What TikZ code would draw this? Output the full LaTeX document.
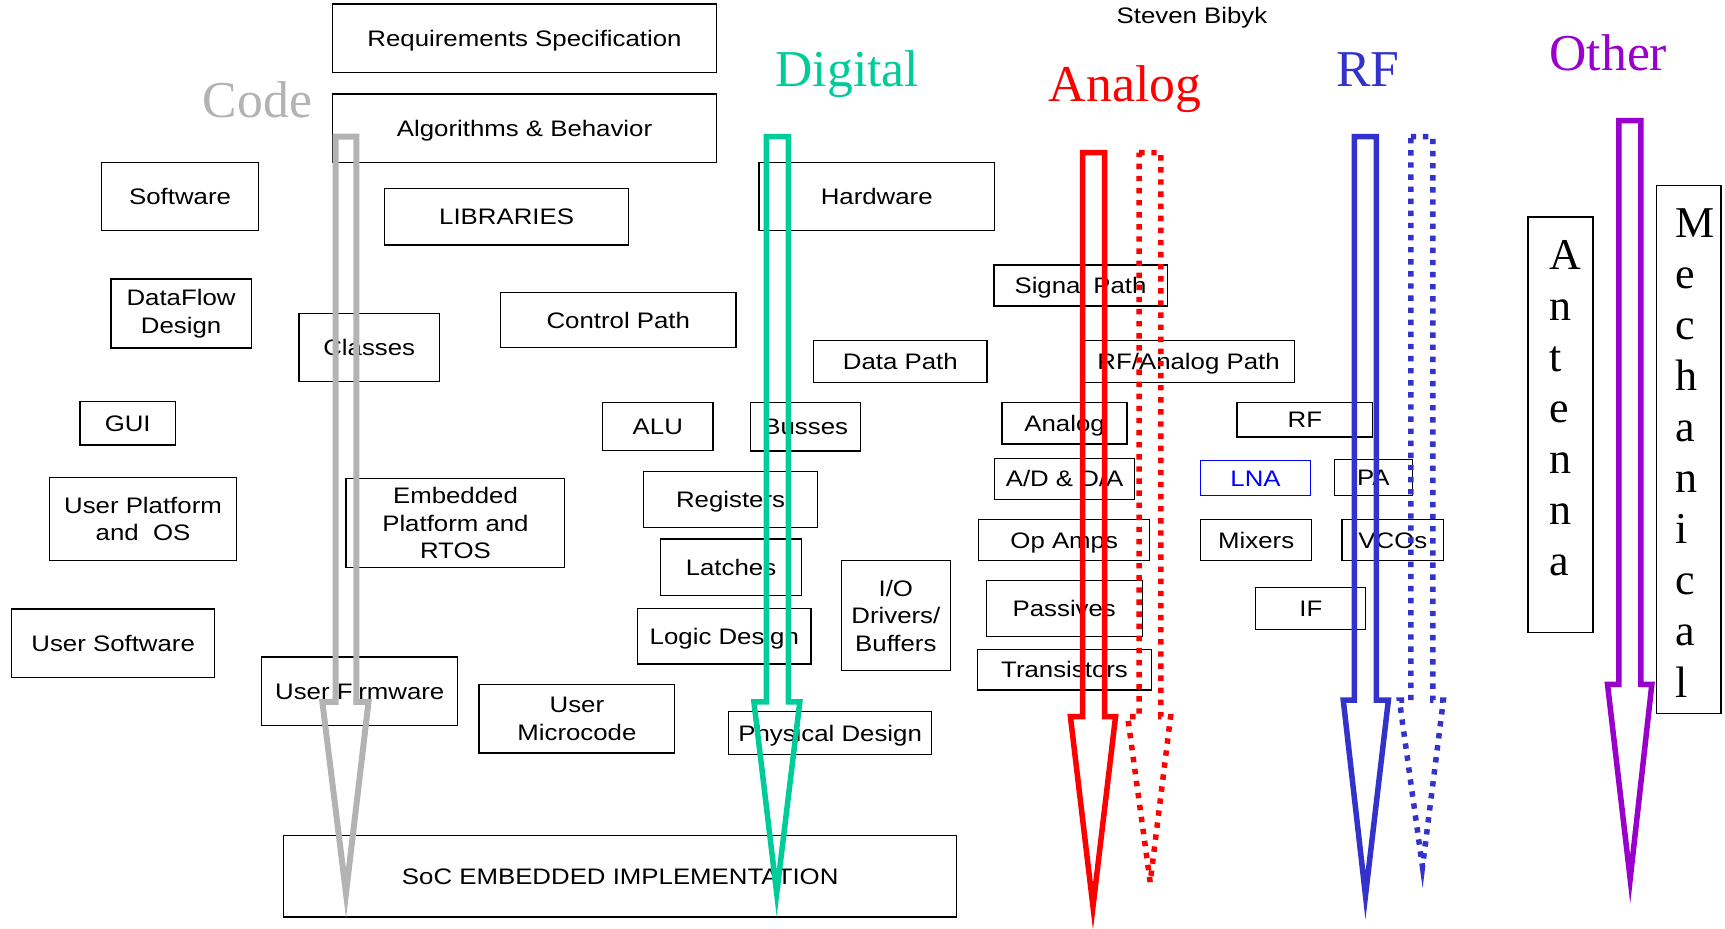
\documentclass[tikz,border=0pt]{standalone}
\usepackage{fontspec}
\setmainfont{Liberation Sans}[FakeStretch=1.15]
\newfontfamily\tmsfont{Liberation Serif}
\definecolor{codegray}{HTML}{B3B3B3}
\definecolor{digteal}{HTML}{00CC99}
\definecolor{anared}{HTML}{FF0000}
\definecolor{rfblue}{HTML}{3333CC}
\definecolor{othpurple}{HTML}{9900CC}
\definecolor{lnablue}{HTML}{0000FF}
\newcommand\bx[7][]{\node[box,#1,minimum width={(#5-#3)*0.5pt},minimum height={(#6-#4)*0.5pt}] (#2) at ({(#3+#5)/2},{(#4+#6)/2}) {#7};}
\newcommand\blockarrow[9]{\draw[#1] (#2,#4) -- (#3,#4) -- (#3,#5) -- (#7,#5) -- (#8,#9) -- (#6,#5) -- (#2,#5) -- cycle;}
\tikzset{
 box/.style={draw=black, line width=0.6pt, inner sep=0pt, outer sep=0pt, align=center, font=\fontsize{10.2}{12.5}\selectfont},
 oneline/.style={text height=7.3pt, text depth=0pt},
 title/.style={font=\tmsfont\fontsize{23.5}{28}\selectfont, anchor=base west, inner sep=0pt},
 vletters/.style={font=\tmsfont\fontsize{20}{23.2}\selectfont, anchor=north west, align=left, inner sep=0pt},
 barrow/.style={line width=2.5pt, line join=miter, miter limit=25},
 dotarrow/.style={barrow, dash pattern=on 2.45pt off 3.05pt},
}
\begin{document}
\begin{tikzpicture}[x=0.5pt,y=-0.5pt]
\fill[white] (0,0) rectangle (1568,844);
\useasboundingbox (0,0) rectangle (1568,844);
% author
\node[font=\fontsize{10.2}{12.5}\selectfont, anchor=base, inner sep=0pt] (author) at (1083.5,21.5) {Steven Bibyk};
% titles
\node[title, text=codegray] (tcode) at (184,107) {Code};
\node[title, text=digteal] (tdig) at (704.5,78.5) {Digital};
\node[title, text=anared] (tana) at (953,92.5) {Analog};
\node[title, text=rfblue] (trf) at (1214,79) {RF};
\node[title, text=othpurple] (toth) at (1408,64) {Other};
% boxes
\bx[oneline]{req}{302.3}{3.6}{651.3}{66.1}{Requirements Specification}
\bx[oneline]{alg}{302.3}{85.5}{651.3}{147.6}{Algorithms \& Behavior}
\bx[oneline]{sw}{92.5}{147.6}{234.9}{209.7}{Software}
\bx[oneline]{lib}{349.5}{171.5}{571.5}{222.7}{LIBRARIES}
\bx[oneline]{hw}{689.9}{147.6}{904}{209.7}{Hardware}
\bx{dfd}{100.9}{253.6}{228.3}{316.4}{DataFlow\\Design}
\bx[oneline]{cls}{271.9}{285.2}{399.3}{347}{Classes}
\bx[oneline]{ctl}{455.2}{266.1}{668.9}{316.1}{Control Path}
\bx[oneline]{dp}{739.5}{309.4}{897.2}{347.6}{Data Path}
\bx[oneline]{sig}{903.4}{240.9}{1061}{278.2}{Signal Path}
\bx[oneline]{rfa}{983.9}{309.5}{1176.9}{347.4}{RF/Analog Path}
\bx[oneline]{gui}{72.7}{365.2}{159.5}{404.5}{GUI}
\bx[oneline]{alu}{547.7}{366.1}{648.2}{409.7}{ALU}
\bx[oneline]{bus}{682.4}{366.1}{782.4}{410}{Busses}
\bx[oneline]{anl}{910.8}{366}{1024.5}{403.6}{Analog}
\bx[oneline]{rfb}{1124.5}{366}{1247.7}{397.3}{RF}
\bx{upo}{44.9}{434.2}{215.1}{509.7}{User Platform\\and~ OS}
\bx{emb}{314.6}{434.8}{513.4}{516.1}{Embedded\\Platform and\\RTOS}
\bx[oneline]{reg}{585.2}{428.8}{743}{479.4}{Registers}
\bx[oneline]{adda}{904}{416.7}{1031.4}{453.9}{A/D \& D/A}
\bx[oneline, draw=lnablue, text=lnablue]{lna}{1091.3}{418.8}{1191.3}{450.3}{LNA}
\bx[oneline]{pa}{1212.9}{417.5}{1283.7}{450.3}{PA}
\bx[oneline]{lat}{600.2}{490}{728.7}{541.2}{Latches}
\bx[oneline]{opa}{889.7}{472.1}{1045}{509.7}{Op Amps}
\bx[oneline]{mix}{1091.3}{472.1}{1192.4}{509.7}{Mixers}
\bx[oneline]{vco}{1219.8}{472.1}{1312.3}{509.7}{VCOs}
\bx{io}{764.6}{509.7}{864}{609.7}{I/O\\Drivers/\\Buffers}
\bx[oneline]{logic}{579.5}{553}{737.3}{603.6}{Logic Design}
\bx[oneline]{pas}{896.6}{527.9}{1038.2}{578.8}{Passives}
\bx[oneline]{if}{1141.5}{534.2}{1241.5}{572.1}{IF}
\bx[oneline]{usw}{10.6}{553.6}{195.2}{615.8}{User Software}
\bx[oneline]{trn}{888.6}{590.3}{1046.7}{627.3}{Transistors}
\bx[oneline]{ufw}{238}{597.3}{416}{659.4}{User Firmware}
\bx{umc}{435.4}{622.1}{613.4}{684.5}{User\\Microcode}
\bx[oneline]{phy}{662.3}{647}{846.9}{685.8}{Physical Design}
\bx[oneline]{soc}{257.8}{759.7}{869.7}{833.6}{SoC EMBEDDED IMPLEMENTATION}
\bx{antbox}{1389}{197.3}{1447.9}{575.2}{}
\bx{mechbox}{1505.5}{168.5}{1564.2}{648.5}{}
\node[vletters] (anttext) at (1407.6,218.2) {A\\n\\t\\e\\n\\n\\a};
\node[vletters] (mechtext) at (1522.7,189.4) {M\\e\\c\\h\\a\\n\\i\\c\\a\\l};
% block arrows
\blockarrow{barrow, draw=codegray, line width=2.7pt}{305}{324}{124.2}{638}{293}{335}{314.5}{812}
\blockarrow{barrow, draw=digteal}{696.7}{716.7}{124.2}{638}{685.3}{727}{706}{812}
\blockarrow{barrow, draw=anared}{984}{1004}{138.8}{651.5}{973}{1014}{993.5}{824}
\blockarrow{dotarrow, draw=anared}{1035.5}{1055.3}{138.8}{651.5}{1025}{1064}{1045.5}{802}
\blockarrow{barrow, draw=rfblue}{1231}{1251}{124.2}{636.5}{1221}{1262}{1241.2}{814}
\blockarrow{dotarrow, draw=rfblue}{1282.4}{1302.4}{124.2}{636.5}{1272}{1312}{1293}{788}
\blockarrow{barrow, draw=othpurple}{1471.5}{1491.5}{109.7}{622}{1461.2}{1501.5}{1481.8}{799}
\end{tikzpicture}
\end{document}
